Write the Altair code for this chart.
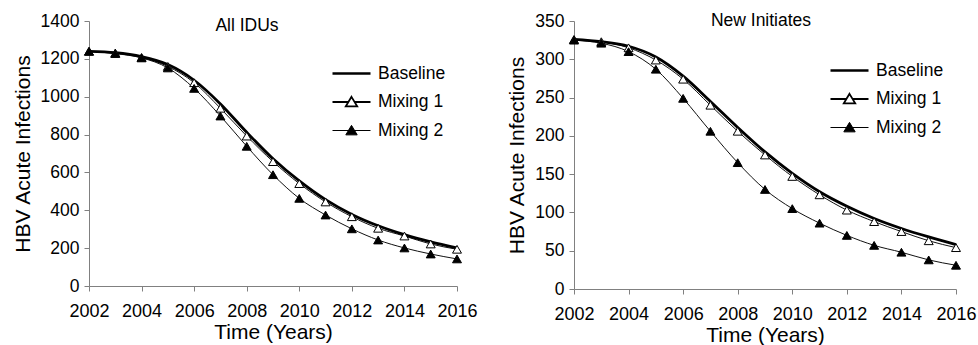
import altair as alt
import pandas as pd

years = list(range(2002, 2017))
series_names = ["Baseline", "Mixing 1", "Mixing 2"]

# All IDUs panel
idu_baseline = [1240, 1233, 1212, 1170, 1087, 962, 812, 672, 555, 456, 378, 318, 271, 233, 201]
idu_mixing1 = [1240, 1231, 1208, 1160, 1074, 939, 792, 657, 541, 444, 366, 305, 264, 222, 194]
idu_mixing2 = [1240, 1228, 1205, 1152, 1044, 898, 738, 588, 463, 375, 302, 243, 201, 169, 143]

# New Initiates panel
ni_baseline = [326, 323, 317, 303, 278, 245, 211, 179, 151, 127, 108, 92, 79, 68, 58]
ni_mixing1 = [326, 323, 315, 299, 274, 240, 206, 175, 147, 123, 103, 88, 75, 63, 54]
ni_mixing2 = [325, 321, 310, 287, 249, 206, 165, 130, 105, 86, 70, 57, 48, 38, 31]

legend_shapes = [
    "M-1,0H1",
    "M-1,0H-0.15M0.15,0H1M0,-0.27L0.3,0.23L-0.3,0.23Z",
    "M-1,0H1M0,-0.27L0.3,0.23L-0.3,0.23Z",
]
legend_fills = ["transparent", "white", "black"]
legend_widths = [2.6, 1, 1]

FONT = "Liberation Sans"


def make_df(b, m1, m2):
    rows = []
    for name, vals in zip(series_names, [b, m1, m2]):
        for yr, v in zip(years, vals):
            rows.append({"year": yr, "value": v, "series": name})
    return pd.DataFrame(rows)


def panel(df, ymax, ystep, title, w, h, tx, ty, lx, ly):
    x = alt.X(
        "year:Q",
        scale=alt.Scale(domain=[2002, 2016], nice=False, zero=False),
        axis=alt.Axis(
            values=list(range(2002, 2017, 2)),
            format="d",
            title="Time (Years)",
            titleFontSize=21,
            titleFontWeight="normal",
            titlePadding=1,
            labelFontSize=18,
            labelPadding=11,
            labelColor="black",
            titleColor="black",
            tickSize=5,
            grid=False,
            domainColor="#808080",
            tickColor="#808080",
            labelFlush=False,
            labelOverlap=False,
        ),
    )
    y = alt.Y(
        "value:Q",
        scale=alt.Scale(domain=[0, ymax], nice=False),
        axis=alt.Axis(
            values=list(range(0, ymax + 1, ystep)),
            format="d",
            title="HBV Acute Infections",
            titleFontSize=21,
            titleFontWeight="normal",
            titlePadding=7,
            labelFontSize=17.5,
            labelPadding=5,
            labelColor="black",
            titleColor="black",
            tickSize=5,
            grid=False,
            domainColor="#808080",
            tickColor="#808080",
            labelOverlap=False,
        ),
    )
    base = alt.Chart(df)
    thin = base.transform_filter(alt.datum.series != "Baseline").mark_line(
        color="#111", strokeWidth=1, interpolate="monotone"
    ).encode(x=x, y=y, detail="series:N")
    thick = base.transform_filter(alt.datum.series == "Baseline").mark_line(
        color="black", strokeWidth=2.8, interpolate="monotone"
    ).encode(x=x, y=y)
    pts = base.transform_filter(alt.datum.series != "Baseline").mark_point(
        shape="triangle-up", size=80, stroke="black", strokeWidth=1, opacity=1, filled=True
    ).encode(
        x=x,
        y=y,
        fill=alt.condition(alt.datum.series == "Mixing 2", alt.value("black"), alt.value("white")),
    )
    leg_common = dict(
        title=None,
        orient="none",
        legendX=lx,
        legendY=ly,
        labelFontSize=17.5,
        labelFont=FONT,
        labelColor="black",
        symbolSize=1444,
        labelOffset=6,
        rowPadding=0,
    )
    leg = base.transform_filter("false").mark_point(
        stroke="black", opacity=1, filled=False
    ).encode(
        shape=alt.Shape(
            "series:N",
            scale=alt.Scale(domain=series_names, range=legend_shapes),
            legend=alt.Legend(**leg_common),
        ),
        fill=alt.Fill(
            "series:N",
            scale=alt.Scale(domain=series_names, range=legend_fills),
            legend=alt.Legend(**leg_common),
        ),
        strokeWidth=alt.StrokeWidth(
            "series:N",
            scale=alt.Scale(domain=series_names, range=legend_widths),
            legend=alt.Legend(**leg_common),
        ),
    )
    label = alt.Chart(pd.DataFrame({"t": [title]})).mark_text(
        fontSize=17.5, font=FONT, color="black", align="center", baseline="middle"
    ).encode(text="t:N", x=alt.value(tx), y=alt.value(ty))
    return alt.layer(thin, thick, pts, leg, label).properties(width=w, height=h)


left = panel(make_df(idu_baseline, idu_mixing1, idu_mixing2), 1400, 200, "All IDUs",
             368, 265, 158, 5, 242, 32)
right = panel(make_df(ni_baseline, ni_mixing1, ni_mixing2), 350, 50, "New Initiates",
              382, 268, 187, 0, 255, 29)

chart = alt.hconcat(left, right, spacing=28).resolve_scale(
    shape="independent", fill="independent", strokeWidth="independent"
).resolve_legend(
    shape="independent", fill="independent", strokeWidth="independent"
).configure(
    font=FONT,
    padding={"left": 12, "top": 12, "right": 0, "bottom": 0},
).configure_view(stroke=None)

chart.save("out.html", embed_options={"renderer": "svg", "actions": False})
